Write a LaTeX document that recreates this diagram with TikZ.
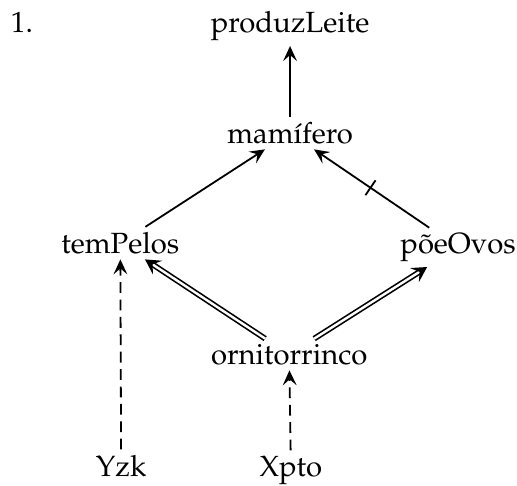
\documentclass[tikz,border=0pt]{standalone}
\usepackage[T1]{fontenc}
\usepackage{mathpazo}
\usepackage{tikz}
\usetikzlibrary
  {
    arrows.meta,              % arrow tips
    decorations.markings,     % the bar on an arrow
  }

\begin{document}
\begin{tikzpicture}
    [
      line width=0.6pt,
      font=\fontsize{9.75pt}{12pt}\selectfont,
      concept/.style=
        {
          anchor=base,
          inner sep=1.5pt,
        },
      isa/.style=
        {
          -{Stealth[length=5pt,width=4.6pt,inset=2pt]},
        },
      negated/.style=
        {
          isa,
          postaction=
            {
              decorate,
              decoration={markings, mark=at position 0.51 with {\draw[-, line width=0.6pt] (0,-3pt) -- (0,3pt);}},
            },
        },
      strict/.style=
        {
          -{Stealth[length=5pt,width=5.5pt,inset=2pt]},
          double,
          double distance=0.8pt,
          line width=0.55pt,
        },
      member/.style=
        {
          -{Stealth[length=5pt,width=4.6pt,inset=2pt]},
          dash pattern=on 3.6pt off 2.2pt,
        },
    ]
    \useasboundingbox (0,0) rectangle (6.06,5.69);
    \node[anchor=base west, inner sep=0pt] (number) at (0.117,5.31) {1.};
    \node[concept]    (produzLeite)  at (3.40,5.31) {produzLeite};
    \node[concept]    (mamifero)     at (3.40,4.01) {mam\'{\i}fero};
    \node[concept]    (temPelos)     at (1.41,2.72) {temPelos};
    \node[concept]    (poeOvos)      at (5.37,2.72) {p\~oeOvos};
    \node[concept]    (ornitorrinco) at (3.39,1.42) {ornitorrinco};
    \node[concept]    (Yzk)          at (1.42,0.11) {Yzk};
    \node[concept]    (Xpto)         at (3.41,0.11) {Xpto};

    \draw[isa]     (mamifero)     -- (produzLeite);
    \draw[isa]     (temPelos)     -- (mamifero);
    \draw[negated] (poeOvos)      -- (mamifero);
    \draw[strict]  (ornitorrinco) -- (temPelos);
    \draw[strict]  (ornitorrinco) -- (poeOvos);
    \draw[member]  (Yzk)          -- (temPelos);
    \draw[member]  (Xpto)         -- (ornitorrinco);
  \end{tikzpicture}
\end{document}
